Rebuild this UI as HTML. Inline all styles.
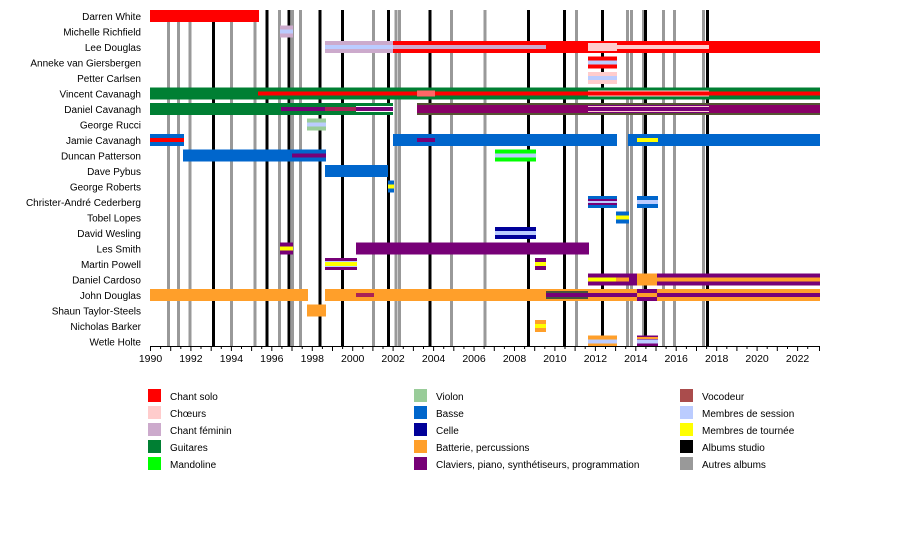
<!DOCTYPE html>
<html><head><meta charset="utf-8"><style>
body{margin:0;background:#fff;}
svg{display:block;font-family:"Liberation Sans",sans-serif;}
</style></head><body>
<svg width="900" height="556" xmlns="http://www.w3.org/2000/svg">
<g id="vl">
<g stroke="#999" stroke-width="3">
<line x1="168.5" y1="10" x2="168.5" y2="346"/><line x1="178.5" y1="10" x2="178.5" y2="346"/><line x1="190" y1="10" x2="190" y2="346"/><line x1="231.5" y1="10" x2="231.5" y2="346"/><line x1="255" y1="10" x2="255" y2="346"/><line x1="279.5" y1="10" x2="279.5" y2="346"/><line x1="292.5" y1="10" x2="292.5" y2="346"/><line x1="300.5" y1="10" x2="300.5" y2="346"/><line x1="373.5" y1="10" x2="373.5" y2="346"/><line x1="396" y1="10" x2="396" y2="346"/><line x1="399.5" y1="10" x2="399.5" y2="346"/><line x1="451.5" y1="10" x2="451.5" y2="346"/><line x1="485" y1="10" x2="485" y2="346"/><line x1="576.5" y1="10" x2="576.5" y2="346"/><line x1="627.5" y1="10" x2="627.5" y2="346"/><line x1="631.5" y1="10" x2="631.5" y2="346"/><line x1="643.5" y1="10" x2="643.5" y2="346"/><line x1="663.5" y1="10" x2="663.5" y2="346"/><line x1="674.5" y1="10" x2="674.5" y2="346"/><line x1="703.5" y1="10" x2="703.5" y2="346"/>
</g>
<g stroke="#000" stroke-width="3">
<line x1="213.5" y1="10" x2="213.5" y2="346"/><line x1="267" y1="10" x2="267" y2="346"/><line x1="289" y1="10" x2="289" y2="346"/><line x1="320" y1="10" x2="320" y2="346"/><line x1="342.5" y1="10" x2="342.5" y2="346"/><line x1="388.5" y1="10" x2="388.5" y2="346"/><line x1="430" y1="10" x2="430" y2="346"/><line x1="528.5" y1="10" x2="528.5" y2="346"/><line x1="564.5" y1="10" x2="564.5" y2="346"/><line x1="602.5" y1="10" x2="602.5" y2="346"/><line x1="645.5" y1="10" x2="645.5" y2="346"/><line x1="707.5" y1="10" x2="707.5" y2="346"/>
</g>
</g>
<g id="bars">
<!-- 0 Darren y10 -->
<rect x="150" y="10" width="109" height="12" fill="#f00"/>
<!-- 1 Michelle y25.5 -->
<rect x="280" y="25.5" width="13" height="12" fill="#ccaacc"/><rect x="280" y="29.5" width="13" height="4" fill="#bbccff"/>
<!-- 2 Lee y41 -->
<rect x="325" y="41" width="68" height="12" fill="#ccaacc"/><rect x="325" y="45" width="68" height="4" fill="#bbccff"/>
<rect x="393" y="41" width="427" height="12" fill="#f00"/><rect x="393" y="45" width="153" height="4" fill="#ccaacc"/>
<rect x="588" y="43" width="29" height="8" fill="#ffcccc"/><rect x="617" y="45" width="92" height="4" fill="#ffcccc"/>
<!-- 3 Anneke y56.5 -->
<rect x="588" y="56.5" width="29" height="12" fill="#f00"/><rect x="588" y="60.5" width="29" height="4" fill="#bbccff"/>
<!-- 4 Petter y72 -->
<rect x="588" y="72" width="29" height="12" fill="#ffcccc"/><rect x="588" y="76" width="29" height="4" fill="#bbccff"/>
<!-- 5 Vincent y87.5 -->
<rect x="150" y="87.5" width="670" height="12" fill="#007f33"/><rect x="258" y="91.5" width="562" height="4" fill="#f00"/>
<rect x="417" y="90.5" width="18" height="6" fill="#ff6666"/>
<rect x="588" y="90.5" width="121" height="1" fill="#ffcccc"/><rect x="588" y="95.5" width="121" height="1" fill="#ffcccc"/>
<!-- 6 Daniel C y103 -->
<rect x="150" y="103" width="243" height="12" fill="#007f33"/><rect x="281" y="107" width="44" height="4" fill="#770077"/><rect x="325" y="107" width="31" height="4" fill="#aa2255"/><rect x="356" y="107" width="37" height="4" fill="#770077"/>
<rect x="356" y="106" width="37" height="1" fill="#fff"/><rect x="356" y="111" width="37" height="1" fill="#fff"/>
<rect x="417" y="103" width="403" height="12" fill="#555533"/><rect x="417" y="105" width="403" height="8" fill="#880066"/>
<rect x="588" y="105" width="121" height="8" fill="#770077"/><rect x="588" y="106" width="121" height="1" fill="#ffcccc"/><rect x="588" y="111" width="121" height="1" fill="#ffcccc"/>
<!-- 7 Rucci y118.5 -->
<rect x="307" y="118.5" width="19" height="12" fill="#99cc99"/><rect x="307" y="122.5" width="19" height="4" fill="#bbccff"/>
<!-- 8 Jamie y134 -->
<rect x="150" y="134" width="34" height="12" fill="#0066cc"/><rect x="150" y="138" width="34" height="4" fill="#f00"/>
<rect x="393" y="134" width="224" height="12" fill="#0066cc"/><rect x="417" y="138" width="18" height="4" fill="#770077"/>
<rect x="628" y="134" width="192" height="12" fill="#0066cc"/><rect x="637" y="138" width="21" height="4" fill="#ff0"/>
<!-- 9 Duncan y149.5 -->
<rect x="183" y="149.5" width="143" height="12" fill="#0066cc"/><rect x="292" y="153.5" width="34" height="4" fill="#770077"/>
<rect x="495" y="149.5" width="41" height="12" fill="#00ff00"/><rect x="495" y="153.5" width="41" height="4" fill="#bbccff"/>
<!-- 10 Pybus y165 -->
<rect x="325" y="165" width="63" height="12" fill="#0066cc"/>
<!-- 11 Roberts y180.5 -->
<rect x="388" y="180.5" width="6" height="12" fill="#0066cc"/><rect x="388" y="184.5" width="6" height="4" fill="#ff0"/>
<!-- 12 Christer y196 -->
<rect x="588" y="196" width="29" height="12" fill="#0066cc"/><rect x="588" y="199" width="29" height="6" fill="#770077"/><rect x="588" y="201" width="29" height="2" fill="#bbccff"/>
<rect x="637" y="196" width="21" height="12" fill="#0066cc"/><rect x="637" y="200" width="21" height="4" fill="#bbccff"/>
<!-- 13 Tobel y211.5 -->
<rect x="616" y="211.5" width="13" height="12" fill="#0066cc"/><rect x="616" y="215.5" width="13" height="4" fill="#ff0"/>
<!-- 14 Wesling y227 -->
<rect x="495" y="227" width="41" height="12" fill="#000099"/><rect x="495" y="231" width="41" height="4" fill="#bbccff"/>
<!-- 15 Les Smith y242.5 -->
<rect x="280" y="242.5" width="13" height="12" fill="#770077"/><rect x="280" y="246.5" width="13" height="4" fill="#ff0"/>
<rect x="356" y="242.5" width="233" height="12" fill="#770077"/>
<!-- 16 Powell y258 -->
<rect x="325" y="258" width="32" height="12" fill="#770077"/><rect x="325" y="261" width="32" height="6" fill="#bbccff"/><rect x="325" y="262" width="32" height="4" fill="#ff0"/>
<rect x="535" y="258" width="11" height="12" fill="#770077"/><rect x="535" y="262" width="11" height="4" fill="#ff0"/>
<!-- 17 Cardoso y273.5 -->
<rect x="588" y="273.5" width="49" height="12" fill="#770077"/><rect x="588" y="277.5" width="28" height="4" fill="#ff0"/><rect x="616" y="277.5" width="13" height="4" fill="#ff9f2a"/>
<rect x="637" y="273.5" width="20" height="12" fill="#ff9f2a"/>
<rect x="657" y="273.5" width="163" height="12" fill="#770077"/><rect x="657" y="277.5" width="163" height="4" fill="#ff9f2a"/>
<!-- 18 John Douglas y289 -->
<rect x="150" y="289" width="158" height="12" fill="#ff9f2a"/>
<rect x="325" y="289" width="495" height="12" fill="#ff9f2a"/><rect x="356" y="293" width="18" height="4" fill="#aa2255"/>
<rect x="546" y="291" width="42" height="8" fill="#44553a"/><rect x="546" y="293" width="42" height="4" fill="#770077"/>
<rect x="588" y="293" width="49" height="4" fill="#770077"/>
<rect x="637" y="289" width="20" height="12" fill="#770077"/><rect x="637" y="293" width="20" height="4" fill="#ff9f2a"/>
<rect x="657" y="293" width="163" height="4" fill="#770077"/>
<!-- 19 Shaun y304.5 -->
<rect x="307" y="304.5" width="19" height="12" fill="#ff9f2a"/>
<!-- 20 Barker y320 -->
<rect x="535" y="320" width="11" height="12" fill="#ff9f2a"/><rect x="535" y="324" width="11" height="4" fill="#ff0"/>
<!-- 21 Wetle y335.5 -->
<rect x="588" y="335.5" width="29" height="11" fill="#ff9f2a"/><rect x="588" y="339.5" width="29" height="4" fill="#bbccff"/>
<rect x="637" y="335.5" width="21" height="11" fill="#770077"/><rect x="637" y="337" width="21" height="2" fill="#ff9f2a"/><rect x="637" y="339.5" width="21" height="4" fill="#bbccff"/>
</g>
<g font-size="10" text-anchor="end" fill="#000">
<text x="141" y="20">Darren White</text>
<text x="141" y="35.5">Michelle Richfield</text>
<text x="141" y="51">Lee Douglas</text>
<text x="141" y="66.5">Anneke van Giersbergen</text>
<text x="141" y="82">Petter Carlsen</text>
<text x="141" y="97.5">Vincent Cavanagh</text>
<text x="141" y="113">Daniel Cavanagh</text>
<text x="141" y="128.5">George Rucci</text>
<text x="141" y="144">Jamie Cavanagh</text>
<text x="141" y="159.5">Duncan Patterson</text>
<text x="141" y="175">Dave Pybus</text>
<text x="141" y="190.5">George Roberts</text>
<text x="141" y="206">Christer-André Cederberg</text>
<text x="141" y="221.5">Tobel Lopes</text>
<text x="141" y="237">David Wesling</text>
<text x="141" y="252.5">Les Smith</text>
<text x="141" y="268">Martin Powell</text>
<text x="141" y="283.5">Daniel Cardoso</text>
<text x="141" y="299">John Douglas</text>
<text x="141" y="314.5">Shaun Taylor-Steels</text>
<text x="141" y="330">Nicholas Barker</text>
<text x="141" y="345.5">Wetle Holte</text>
</g>
<line x1="150" y1="346.5" x2="820" y2="346.5" stroke="#000" stroke-width="1"/>
<g stroke="#000" stroke-width="1" id="ticks"></g>
<g font-size="10" text-anchor="middle" id="lab"></g>
<g font-size="10" fill="#000">
<rect x="148" y="389" width="13" height="13" fill="#f00"/><text x="170" y="400">Chant solo</text>
<rect x="148" y="406" width="13" height="13" fill="#ffcccc"/><text x="170" y="417">Chœurs</text>
<rect x="148" y="423" width="13" height="13" fill="#ccaacc"/><text x="170" y="434">Chant féminin</text>
<rect x="148" y="440" width="13" height="13" fill="#007f33"/><text x="170" y="451">Guitares</text>
<rect x="148" y="457" width="13" height="13" fill="#00ff00"/><text x="170" y="468">Mandoline</text>
<rect x="414" y="389" width="13" height="13" fill="#99cc99"/><text x="436" y="400">Violon</text>
<rect x="414" y="406" width="13" height="13" fill="#0066cc"/><text x="436" y="417">Basse</text>
<rect x="414" y="423" width="13" height="13" fill="#000099"/><text x="436" y="434">Celle</text>
<rect x="414" y="440" width="13" height="13" fill="#ff9f2a"/><text x="436" y="451">Batterie, percussions</text>
<rect x="414" y="457" width="13" height="13" fill="#770077"/><text x="436" y="468">Claviers, piano, synthétiseurs, programmation</text>
<rect x="680" y="389" width="13" height="13" fill="#aa4c4c"/><text x="702" y="400">Vocodeur</text>
<rect x="680" y="406" width="13" height="13" fill="#bbccff"/><text x="702" y="417">Membres de session</text>
<rect x="680" y="423" width="13" height="13" fill="#ff0"/><text x="702" y="434">Membres de tournée</text>
<rect x="680" y="440" width="13" height="13" fill="#000"/><text x="702" y="451">Albums studio</text>
<rect x="680" y="457" width="13" height="13" fill="#999"/><text x="702" y="468">Autres albums</text>
</g>
<g stroke="#000" stroke-width="1">
<line x1="150.5" y1="346" x2="150.5" y2="351"/><line x1="160.6" y1="346" x2="160.6" y2="349"/><line x1="170.7" y1="346" x2="170.7" y2="351"/><line x1="180.8" y1="346" x2="180.8" y2="349"/><line x1="190.9" y1="346" x2="190.9" y2="351"/><line x1="201" y1="346" x2="201" y2="349"/><line x1="211.2" y1="346" x2="211.2" y2="351"/><line x1="221.3" y1="346" x2="221.3" y2="349"/><line x1="231.4" y1="346" x2="231.4" y2="351"/><line x1="241.5" y1="346" x2="241.5" y2="349"/><line x1="251.6" y1="346" x2="251.6" y2="351"/><line x1="261.7" y1="346" x2="261.7" y2="349"/><line x1="271.8" y1="346" x2="271.8" y2="351"/><line x1="281.9" y1="346" x2="281.9" y2="349"/><line x1="292" y1="346" x2="292" y2="351"/><line x1="302.2" y1="346" x2="302.2" y2="349"/><line x1="312.3" y1="346" x2="312.3" y2="351"/><line x1="322.4" y1="346" x2="322.4" y2="349"/><line x1="332.5" y1="346" x2="332.5" y2="351"/><line x1="342.6" y1="346" x2="342.6" y2="349"/><line x1="352.7" y1="346" x2="352.7" y2="351"/><line x1="362.8" y1="346" x2="362.8" y2="349"/><line x1="372.9" y1="346" x2="372.9" y2="351"/><line x1="383" y1="346" x2="383" y2="349"/><line x1="393.1" y1="346" x2="393.1" y2="351"/><line x1="403.3" y1="346" x2="403.3" y2="349"/><line x1="413.4" y1="346" x2="413.4" y2="351"/><line x1="423.5" y1="346" x2="423.5" y2="349"/><line x1="433.6" y1="346" x2="433.6" y2="351"/><line x1="443.7" y1="346" x2="443.7" y2="349"/><line x1="453.8" y1="346" x2="453.8" y2="351"/><line x1="463.9" y1="346" x2="463.9" y2="349"/><line x1="474" y1="346" x2="474" y2="351"/><line x1="484.1" y1="346" x2="484.1" y2="349"/><line x1="494.3" y1="346" x2="494.3" y2="351"/><line x1="504.4" y1="346" x2="504.4" y2="349"/><line x1="514.5" y1="346" x2="514.5" y2="351"/><line x1="524.6" y1="346" x2="524.6" y2="349"/><line x1="534.7" y1="346" x2="534.7" y2="351"/><line x1="544.8" y1="346" x2="544.8" y2="349"/><line x1="554.9" y1="346" x2="554.9" y2="351"/><line x1="565" y1="346" x2="565" y2="349"/><line x1="575.1" y1="346" x2="575.1" y2="351"/><line x1="585.2" y1="346" x2="585.2" y2="349"/><line x1="595.4" y1="346" x2="595.4" y2="351"/><line x1="605.5" y1="346" x2="605.5" y2="349"/><line x1="615.6" y1="346" x2="615.6" y2="351"/><line x1="625.7" y1="346" x2="625.7" y2="349"/><line x1="635.8" y1="346" x2="635.8" y2="351"/><line x1="645.9" y1="346" x2="645.9" y2="349"/><line x1="656" y1="346" x2="656" y2="351"/><line x1="666.1" y1="346" x2="666.1" y2="349"/><line x1="676.2" y1="346" x2="676.2" y2="351"/><line x1="686.4" y1="346" x2="686.4" y2="349"/><line x1="696.5" y1="346" x2="696.5" y2="351"/><line x1="706.6" y1="346" x2="706.6" y2="349"/><line x1="716.7" y1="346" x2="716.7" y2="351"/><line x1="726.8" y1="346" x2="726.8" y2="349"/><line x1="736.9" y1="346" x2="736.9" y2="351"/><line x1="747" y1="346" x2="747" y2="349"/><line x1="757.1" y1="346" x2="757.1" y2="351"/><line x1="767.2" y1="346" x2="767.2" y2="349"/><line x1="777.3" y1="346" x2="777.3" y2="351"/><line x1="787.5" y1="346" x2="787.5" y2="349"/><line x1="797.6" y1="346" x2="797.6" y2="351"/><line x1="807.7" y1="346" x2="807.7" y2="349"/><line x1="819.5" y1="346" x2="819.5" y2="351"/>
</g>
<g font-size="10.5" text-anchor="middle">
<text x="150.5" y="362">1990</text><text x="190.9" y="362">1992</text><text x="231.4" y="362">1994</text><text x="271.8" y="362">1996</text><text x="312.3" y="362">1998</text><text x="352.7" y="362">2000</text><text x="393.1" y="362">2002</text><text x="433.6" y="362">2004</text><text x="474" y="362">2006</text><text x="514.5" y="362">2008</text><text x="554.9" y="362">2010</text><text x="595.4" y="362">2012</text><text x="635.8" y="362">2014</text><text x="676.2" y="362">2016</text><text x="716.7" y="362">2018</text><text x="757.1" y="362">2020</text><text x="797.6" y="362">2022</text>
</g>
</svg>
</body></html>
